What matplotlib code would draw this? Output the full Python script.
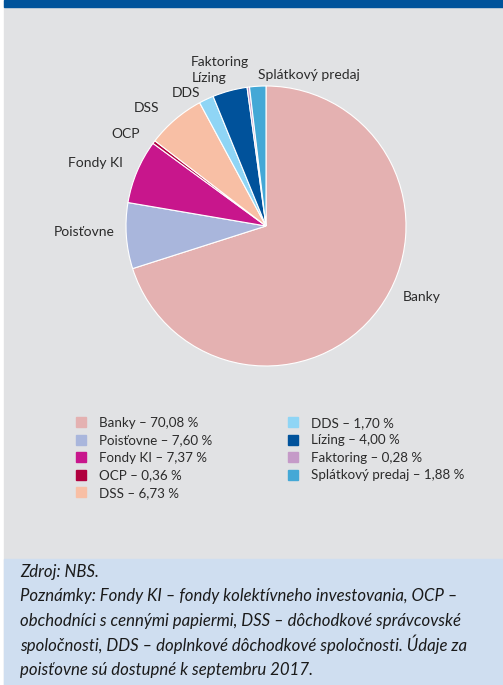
import matplotlib.pyplot as plt
from matplotlib.lines import Line2D
from matplotlib.patches import Rectangle

# --- data ---
categories = ["Banky", "Poisťovne", "Fondy KI", "OCP", "DSS", "DDS", "Lízing", "Faktoring", "Splátkový predaj"]
shares = [70.08, 7.60, 7.37, 0.36, 6.73, 1.70, 4.00, 0.28, 1.88]
share_labels = ["70,08", "7,60", "7,37", "0,36", "6,73", "1,70", "4,00", "0,28", "1,88"]
colors = ["#e4b1b1", "#a9b6dc", "#c8168c", "#b0003e", "#f8bfa5",
          "#8fd5f5", "#00529b", "#c59ac8", "#44a8d6"]

note_lines = [
    "Zdroj: NBS.",
    "Poznámky: Fondy KI – fondy kolektívneho investovania, OCP –",
    "obchodníci s cennými papiermi, DSS – dôchodkové správcovské",
    "spoločnosti, DDS – doplnkové dôchodkové spoločnosti. Údaje za",
    "poisťovne sú dostupné k septembru 2017.",
]

# where the slice names sit (pie radius units) - hand placed like the original
label_pos = [(0.98, -0.51, "left"), (-1.08, -0.04, "right"), (-1.02, 0.45, "right"),
             (-0.90, 0.66, "right"), (-0.76, 0.84, "right"), (-0.47, 0.95, "right"),
             (-0.28, 1.06, "right"), (-0.54, 1.17, "left"), (-0.06, 1.08, "left")]

plt.rcParams['font.family'] = ['Lato', 'DejaVu Sans']
TXT = "#2b2b2b"

W, H = 503, 685
fig = plt.figure(figsize=(W / 100, H / 100), dpi=100)
fig.patch.set_facecolor("white")

# background panels
fig.add_artist(Rectangle((4 / W, 0), 1, 1, transform=fig.transFigure, color="#e1e2e4", zorder=-3))
fig.add_artist(Rectangle((4 / W, 1 - 7 / H), 1, 7 / H, transform=fig.transFigure, color="#00539b", zorder=-2))
fig.add_artist(Rectangle((4 / W, 0), 1, 1 - 559 / H, transform=fig.transFigure, color="#cfdef0", zorder=-2))

# pie
cx, cy, r = 266, 226, 140
ax = fig.add_axes([(cx - r) / W, 1 - (cy + r) / H, 2 * r / W, 2 * r / H])
wedges, texts = ax.pie(shares, labels=categories, colors=colors, startangle=90,
                       counterclock=False,
                       wedgeprops=dict(linewidth=0.8, edgecolor="white"),
                       textprops=dict(fontsize=10, color=TXT))
for t, (x, y, ha) in zip(texts, label_pos):
    t.set_position((x, y))
    t.set_ha(ha)
    t.set_va("center")
ax.set_xlim(-1, 1)
ax.set_ylim(-1, 1)
ax.set_aspect("equal")
ax.axis("off")

# legend
handles = [Line2D([], [], marker="s", linestyle="none", markersize=7,
                  markerfacecolor=c, markeredgecolor=c) for c in colors]
leg_labels = [f"{n} – {v} %" for n, v in zip(categories, share_labels)]
fig.legend(handles, leg_labels, ncol=2, loc="upper left",
           bbox_to_anchor=(68 / W, 1 - 410 / H), frameon=False,
           fontsize=9.6, handletextpad=0.8, columnspacing=5.6,
           labelspacing=0.42, handlelength=1.0, borderpad=0,
           labelcolor=TXT)

# notes
y0 = 577
for i, line in enumerate(note_lines):
    fig.text(20 / W, 1 - (y0 + i * 24.5) / H, line, fontsize=12.1, style="italic",
             color="#1a1a1a", va="baseline", ha="left")

fig.savefig("out.png", dpi=100, facecolor=fig.get_facecolor())
